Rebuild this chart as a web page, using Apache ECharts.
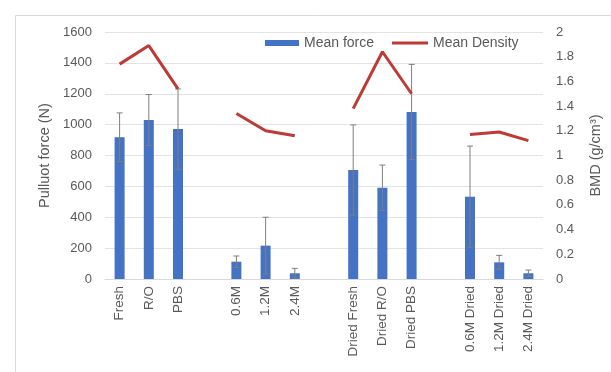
<!DOCTYPE html>
<html>
<head>
<meta charset="utf-8">
<script src="https://cdn.jsdelivr.net/npm/echarts@6/dist/echarts.min.js"></script>
<style>html,body{margin:0;padding:0;background:#fff;}#c{width:611px;height:372px;}</style>
</head>
<body>
<div id="c"></div>
<script>
const categories = ['Fresh','R/O','PBS','','0.6M','1.2M','2.4M','','Dried Fresh','Dried R/O','Dried PBS','','0.6M Dried','1.2M Dried','2.4M Dried'];
const meanForce = [918, 1030, 971, null, 112, 216, 37, null, 706, 591, 1082, null, 533, 108, 37];
const forceError = [158, 165, 260, null, 37, 184, 32, null, 292, 147, 308, null, 328, 45, 21];
const meanDensity = [1.74, 1.89, 1.54, null, 1.34, 1.20, 1.16, null, 1.38, 1.84, 1.50, null, 1.17, 1.19, 1.12];
const leftTicks = {min: 0, max: 1600, interval: 200};
const rightTicks = {min: 0, max: 2, interval: 0.2};

const FONT = 'Liberation Sans';
const TXT = '#595959';
const chart = echarts.init(document.getElementById('c'), null, {renderer: 'canvas'});

const errData = meanForce.map((v, i) => v == null ? [i, null, null, null] : [i, v - forceError[i], v + forceError[i], v]);

chart.setOption({
  animation: false,
  textStyle: {fontFamily: FONT},
  graphic: [{
    type: 'rect', left: 13, top: 13, silent: true,
    shape: {width: 620, height: 358},
    style: {fill: 'none', stroke: '#d9d9d9', lineWidth: 1}
  }],
  legend: [{
    left: 265, top: 36, padding: 0, itemWidth: 34, itemHeight: 6,
    textStyle: {color: TXT, fontSize: 14, fontFamily: FONT},
    data: [{name: 'Mean force', icon: 'rect'}]
  }, {
    left: 392, top: 36, padding: 0, itemWidth: 36, itemHeight: 3,
    textStyle: {color: TXT, fontSize: 14, fontFamily: FONT},
    data: [{name: 'Mean Density', icon: 'rect'}]
  }],
  grid: {left: 105, right: 66, top: 32, bottom: 93},
  xAxis: {
    type: 'category', data: categories,
    axisLine: {lineStyle: {color: '#d9d9d9'}},
    axisTick: {show: false},
    axisLabel: {rotate: 90, interval: 0, margin: 7, color: TXT, fontSize: 13.5, fontFamily: FONT}
  },
  yAxis: [{
    type: 'value', min: leftTicks.min, max: leftTicks.max, interval: leftTicks.interval,
    name: 'Pulluot force (N)', nameLocation: 'middle', nameGap: 52, nameRotate: 90,
    nameTextStyle: {color: TXT, fontSize: 14.5, fontFamily: FONT},
    axisLabel: {color: TXT, fontSize: 13, margin: 13, fontFamily: FONT, formatter: v => String(v)},
    axisLine: {show: false}, axisTick: {show: false},
    splitLine: {lineStyle: {color: '#e3e3e3'}}
  }, {
    type: 'value', min: rightTicks.min, max: rightTicks.max, interval: rightTicks.interval,
    name: 'BMD (g/cm³)', nameLocation: 'middle', nameGap: 45, nameRotate: 90,
    nameTextStyle: {color: TXT, fontSize: 14.5, fontFamily: FONT},
    axisLabel: {color: TXT, fontSize: 13, margin: 13, fontFamily: FONT, formatter: v => String(Math.round(v * 10) / 10)},
    axisLine: {show: false}, axisTick: {show: false},
    splitLine: {show: false}
  }],
  series: [{
    name: 'Mean force', type: 'bar', data: meanForce, barWidth: 10,
    itemStyle: {color: '#4472c4'}, z: 2
  }, {
    name: 'error', type: 'custom', data: errData, z: 3,
    renderItem: function (params, api) {
      if (api.value(1) == null || isNaN(api.value(1))) return;
      const lo = api.coord([api.value(0), api.value(1)]);
      const hi = api.coord([api.value(0), api.value(2)]);
      const w = 3;
      const st = {stroke: '#7f7f7f', lineWidth: 1};
      return {type: 'group', children: [
        {type: 'line', shape: {x1: lo[0], y1: lo[1], x2: hi[0], y2: hi[1]}, style: st},
        {type: 'line', shape: {x1: hi[0]-w, y1: hi[1], x2: hi[0]+w, y2: hi[1]}, style: st},
        {type: 'line', shape: {x1: lo[0]-w, y1: lo[1], x2: lo[0]+w, y2: lo[1]}, style: st}
      ]};
    },
    encode: {x: 0, y: [1, 2]}
  }, {
    name: 'Mean Density', type: 'line', yAxisIndex: 1, data: meanDensity,
    symbol: 'none', connectNulls: false,
    lineStyle: {color: '#be3a34', width: 3}, itemStyle: {color: '#be3a34'}, z: 4
  }]
});
</script>
</body>
</html>
